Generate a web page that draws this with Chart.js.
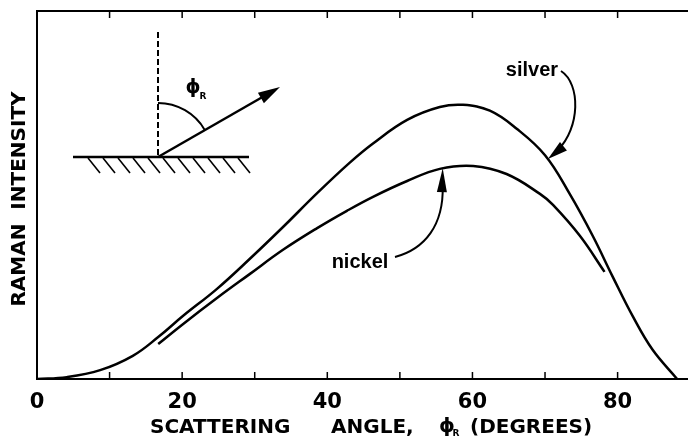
<!DOCTYPE html>
<html>
<head>
<meta charset="utf-8">
<script src="https://cdn.jsdelivr.net/npm/chart.js@4"></script>
<style>
  body { margin: 0; background: #fff; }
  canvas { display: block; }
</style>
</head>
<body>
<canvas id="ramanChart" width="688" height="439"></canvas>
<script>
// valores (ângulo em graus, intensidade em escala relativa 0-100)
const silverAngle = [0, 4.1, 8.7, 13.2, 16.7, 20.1, 24.8, 29.3, 33.9, 38.6, 43.1, 46.3, 51.0, 55.5, 58.7, 62.4, 66.1, 70.0, 73.4, 76.6, 79.3, 82.1, 84.8, 88.2];
const silverIntensity = [0, 0.5, 2.4, 6.3, 11.4, 17.1, 24.5, 32.6, 41.3, 50.5, 58.8, 64.0, 70.4, 73.9, 74.5, 72.9, 68.0, 60.8, 50.3, 38.8, 27.9, 17.0, 8.0, 0];
const nickelAngle = [16.7, 20.1, 24.8, 29.3, 33.9, 38.6, 42.7, 46.3, 51.0, 55.5, 60.1, 64.7, 69.3, 71.1, 74.8, 78.2];
const nickelIntensity = [9.5, 14.9, 22.0, 28.5, 35.1, 41.0, 45.7, 49.5, 53.8, 57.1, 57.9, 55.7, 50.3, 47.3, 38.9, 29.1];
const xTicks = [0, 10, 20, 30, 40, 50, 60, 70, 80];
const xLabels = [0, 20, 40, 60, 80];

const BOLD = 'bold 20px "DejaVu Sans"';

function toPoints(xs, ys) {
    return xs.map((v, i) => ({ x: v, y: ys[i] }));
}

// desenha uma ponta de seta preenchida
function arrowHead(ctx, tipX, tipY, fromX, fromY, len, half) {
    const ang = Math.atan2(tipY - fromY, tipX - fromX);
    ctx.beginPath();
    ctx.moveTo(tipX, tipY);
    ctx.lineTo(tipX - len * Math.cos(ang) + half * Math.sin(ang), tipY - len * Math.sin(ang) - half * Math.cos(ang));
    ctx.lineTo(tipX - len * Math.cos(ang) - half * Math.sin(ang), tipY - len * Math.sin(ang) + half * Math.cos(ang));
    ctx.closePath();
    ctx.fill();
}

const decorPlugin = {
    id: 'decor',
    afterDraw(chart) {
        const { ctx, chartArea: a, scales: { x, y } } = chart;
        ctx.save();
        ctx.strokeStyle = '#000';
        ctx.fillStyle = '#000';
        ctx.lineCap = 'butt';

        // moldura (esquerda, topo, base)
        ctx.lineWidth = 2;
        ctx.beginPath();
        ctx.moveTo(a.right, a.top);
        ctx.lineTo(a.left, a.top);
        ctx.lineTo(a.left, a.bottom);
        ctx.lineTo(a.right, a.bottom);
        ctx.stroke();

        // marcas internas
        ctx.lineWidth = 1.5;
        xTicks.forEach(t => {
            if (t === 0) return;
            const px = x.getPixelForValue(t);
            ctx.beginPath();
            ctx.moveTo(px, a.bottom);
            ctx.lineTo(px, a.bottom - 7);
            ctx.moveTo(px, a.top);
            ctx.lineTo(px, a.top + 7);
            ctx.stroke();
        });

        // títulos dos eixos
        ctx.font = BOLD;
        ctx.textBaseline = 'middle';
        ctx.textAlign = 'left';
        ctx.fillText('SCATTERING', 150, 428);
        ctx.fillText('ANGLE,', 331, 428);
        ctx.fillText('(DEGREES)', 470, 428);
        ctx.textAlign = 'center';
        ctx.fillText('ϕ', 447, 427);
        ctx.font = 'bold 9px "DejaVu Sans"';
        ctx.fillText('R', 456, 434);

        ctx.save();
        ctx.translate(20, 199);
        ctx.rotate(-Math.PI / 2);
        ctx.font = BOLD;
        ctx.fillText('RAMAN  INTENSITY', 0, 0);
        ctx.restore();

        // esquema do ângulo de espalhamento
        const cx = 158, cy = 157;
        ctx.lineWidth = 2.5;
        ctx.beginPath();
        ctx.moveTo(73, cy);
        ctx.lineTo(249, cy);
        ctx.stroke();
        ctx.lineWidth = 1.6;
        for (let i = 0; i < 11; i++) {
            const hx = 88 + i * 15;
            ctx.beginPath();
            ctx.moveTo(hx, cy + 1);
            ctx.lineTo(hx + 12, cy + 16);
            ctx.stroke();
        }
        ctx.lineWidth = 2;
        ctx.setLineDash([6, 3]);
        ctx.beginPath();
        ctx.moveTo(cx, 32);
        ctx.lineTo(cx, cy);
        ctx.stroke();
        ctx.setLineDash([]);
        ctx.beginPath();
        ctx.arc(cx, cy, 54, -Math.PI / 2, -Math.PI / 6);
        ctx.stroke();
        ctx.lineWidth = 2.5;
        ctx.beginPath();
        ctx.moveTo(cx, cy);
        ctx.lineTo(266, 95);
        ctx.stroke();
        arrowHead(ctx, 280, 87, cx, cy, 22, 6);
        ctx.font = 'bold 19px "DejaVu Sans"';
        ctx.fillText('ϕ', 193, 88);
        ctx.font = 'bold 9px "DejaVu Sans"';
        ctx.fillText('R', 203, 97);

        // rótulos das curvas
        ctx.font = 'bold 20px "Liberation Sans"';
        ctx.fillText('silver', 532, 70);
        ctx.fillText('nickel', 360, 262);

        const sx = x.getPixelForValue(70.4), sy = y.getPixelForValue(59.8);
        ctx.lineWidth = 2;
        ctx.beginPath();
        ctx.moveTo(561, 71);
        ctx.bezierCurveTo(581, 84, 580, 128, sx + 10, sy - 9);
        ctx.stroke();
        arrowHead(ctx, sx, sy, sx + 16, sy - 13, 20, 5.5);

        const nx = x.getPixelForValue(55.9), ny = y.getPixelForValue(57.3);
        ctx.beginPath();
        ctx.moveTo(395, 257);
        ctx.bezierCurveTo(425, 249, nx + 1, 225, nx, ny + 18);
        ctx.stroke();
        arrowHead(ctx, nx, ny, nx - 1, ny + 30, 24, 5);

        ctx.restore();
    }
};

new Chart(document.getElementById('ramanChart'), {
    type: 'line',
    data: {
        datasets: [
            { label: 'silver', data: toPoints(silverAngle, silverIntensity) },
            { label: 'nickel', data: toPoints(nickelAngle, nickelIntensity) }
        ]
    },
    options: {
        responsive: false,
        animation: false,
        layout: { padding: { left: 37, top: 11, right: 0, bottom: 0 } },
        elements: {
            line: { borderColor: '#000', borderWidth: 2.5, tension: 0.4, fill: false },
            point: { radius: 0 }
        },
        plugins: {
            legend: { display: false },
            tooltip: { enabled: false }
        },
        scales: {
            x: {
                type: 'linear',
                min: 0,
                max: 89.7,
                grid: { display: false, drawTicks: false },
                border: { display: false },
                afterFit: scale => { scale.height = 60; },
                afterBuildTicks: scale => { scale.ticks = xTicks.map(v => ({ value: v })); },
                ticks: {
                    autoSkip: false,
                    maxRotation: 0,
                    padding: 11,
                    color: '#000',
                    font: { family: 'DejaVu Sans', size: 21, weight: 'bold' },
                    callback: v => xLabels.includes(v) ? String(v) : ''
                }
            },
            y: {
                display: false,
                min: 0,
                max: 100
            }
        }
    },
    plugins: [decorPlugin]
});
</script>
</body>
</html>
